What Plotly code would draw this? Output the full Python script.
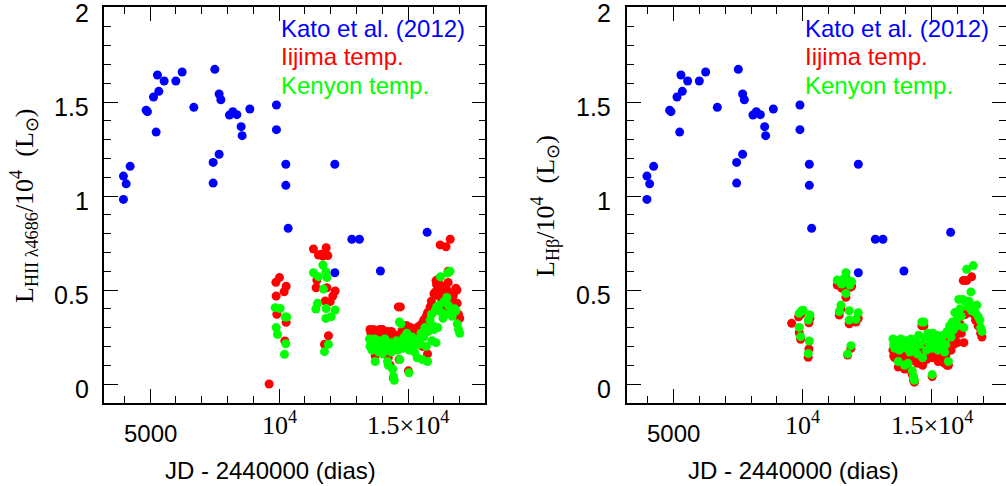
import plotly.graph_objects as go

# ---------------- data ----------------
kato_jd = [3965, 4070, 4225, 3965, 4845, 4895, 5233, 5130, 5336, 5284, 5543, 5995, 6240, 6693,
           7507, 7442, 7442, 7674, 7674, 7740, 8074, 8205, 8360, 8864, 8527, 8566, 9895, 9895,
           10259, 10259, 12158, 10349, 12817, 13112, 12158, 13926, 15736]
kato_l = [1.106, 1.065, 1.158, 0.982, 1.457, 1.449, 1.340, 1.527, 1.557, 1.644, 1.612, 1.612, 1.660, 1.472,
          1.674, 1.179, 1.069, 1.222, 1.543, 1.512, 1.431, 1.449, 1.433, 1.463, 1.369, 1.321, 1.484, 1.353,
          1.169, 1.057, 1.169, 0.828, 0.770, 0.770, 0.592, 0.601, 0.807]

# He II 4686 panel - Iijima template
heii_iijima_jd = [10012, 9872, 10271, 10194, 9884, 9910, 10271, 10220, 9612,
                  11330, 11822, 11523, 11693, 11887, 11460, 11434, 11848, 12171, 12081, 11977, 11783, 11911, 11756, 11620,
                  13520, 13560, 13600, 13650, 13700, 13720, 13800, 13850, 13900, 13950, 14000, 14050, 14100, 14150,
                  14200, 14250, 14300, 14350, 14400, 14450, 14500, 14550, 14620, 14700, 14750, 14800, 14850, 14900,
                  14950, 15000, 15050, 15100, 15150, 15200, 15250, 15300, 15350, 15400,
                  13720, 13850, 14230, 14430, 14300, 15010, 14650, 13650, 14100, 15750, 15550,
                  15450, 15530, 15600, 15650, 15700, 15750, 15800, 15850, 15900, 15950, 16000, 16050, 16080, 16100,
                  16150, 16200, 16250, 16240, 16300, 16350, 16400, 16470, 16500, 16550, 16560, 16630, 16650, 16700,
                  16750, 16800, 16850, 16890, 16900, 16950, 17000, 16550, 16420]
heii_iijima_l = [0.566, 0.541, 0.520, 0.491, 0.468, 0.371, 0.328, 0.229, 0.0,
                 0.718, 0.725, 0.686, 0.681, 0.683, 0.553, 0.512, 0.512, 0.495, 0.468, 0.438, 0.441, 0.257, 0.211, 0.69,
                 0.29, 0.27, 0.25, 0.29, 0.26, 0.23, 0.27, 0.25, 0.29, 0.27, 0.29, 0.25, 0.26, 0.22,
                 0.28, 0.26, 0.24, 0.28, 0.27, 0.23, 0.26, 0.21, 0.41, 0.41, 0.28, 0.24, 0.26, 0.31,
                 0.31, 0.22, 0.27, 0.30, 0.25, 0.27, 0.24, 0.29, 0.30, 0.27,
                 0.15, 0.17, 0.14, 0.03, 0.10, 0.07, 0.13, 0.19, 0.19, 0.16, 0.20,
                 0.31, 0.32, 0.34, 0.28, 0.36, 0.38, 0.33, 0.41, 0.44, 0.38, 0.48, 0.49, 0.55, 0.53,
                 0.47, 0.56, 0.50, 0.74, 0.44, 0.52, 0.46, 0.73, 0.50, 0.60, 0.49, 0.77, 0.45, 0.42,
                 0.47, 0.40, 0.51, 0.50, 0.43, 0.37, 0.35, 0.54, 0.40]

# He II 4686 panel - Kenyon template
heii_kenyon_jd = [9845, 10039, 10233, 10297, 9884, 9935, 10259, 10205,
                  11693, 11330, 11523, 11810, 11848, 11718, 11486, 11422, 11822, 12171, 12016, 11810, 11911, 11756,
                  13500, 13520, 13560, 13600, 13650, 13700, 13720, 13780, 13820, 13860, 13900, 13950, 14000, 14050,
                  14100, 14150, 14200, 14230, 14260, 14300, 14350, 14400, 14430, 14460, 14500, 14550, 14600, 14660,
                  14720, 14680, 14750, 14800, 14850, 14900, 14950, 15000, 15030, 15050, 15100, 15150, 15200, 15250,
                  15300, 15350, 15400,
                  15450, 15500, 15550, 15600, 15650, 15700, 15750, 15780, 15850, 15900, 15920, 15950, 16000, 16050,
                  16080, 16100, 16150, 16200, 16250, 16300, 16350, 16400, 16450, 16500, 16530, 16550, 16620, 16650,
                  16700, 16750, 16800, 16850, 16900, 16950, 17000]
heii_kenyon_l = [0.406, 0.402, 0.356, 0.356, 0.300, 0.264, 0.214, 0.158,
                 0.633, 0.592, 0.571, 0.597, 0.566, 0.505, 0.429, 0.399, 0.402, 0.394, 0.358, 0.349, 0.211, 0.172,
                 0.24, 0.20, 0.22, 0.18, 0.21, 0.24, 0.12, 0.19, 0.22, 0.17, 0.23, 0.20, 0.16, 0.21,
                 0.24, 0.18, 0.12, 0.10, 0.20, 0.22, 0.17, 0.08, 0.04, 0.02, 0.21, 0.23, 0.18, 0.33,
                 0.32, 0.13, 0.22, 0.19, 0.25, 0.21, 0.27, 0.24, 0.06, 0.18, 0.23, 0.25, 0.20, 0.17,
                 0.22, 0.14, 0.24,
                 0.21, 0.27, 0.13, 0.25, 0.30, 0.20, 0.12, 0.28, 0.34, 0.37, 0.23, 0.31, 0.29, 0.39,
                 0.22, 0.41, 0.30, 0.42, 0.57, 0.38, 0.35, 0.44, 0.37, 0.46, 0.59, 0.42, 0.60, 0.39,
                 0.36, 0.38, 0.40, 0.39, 0.32, 0.29, 0.27]

# H-beta panel - Iijima template
hb_iijima_jd = [9574, 9845, 9940, 9868, 9922, 10244, 10283, 10244, 10217,
                11341, 11512, 11678, 11767, 11833, 11678, 11484, 11419, 11806, 12155, 12066, 11806, 11872, 11744, 11900,
                13500, 13530, 13570, 13600, 13650, 13700, 13705, 13750, 13800, 13850, 13900, 13950, 14000, 14050,
                14080, 14100, 14150, 14200, 14250, 14300, 14330, 14350, 14400, 14450, 14500, 14550, 14650, 14750,
                14800, 14850, 14900, 14950, 15000, 15020, 15050, 15100, 15150, 15200, 15250, 15300, 15350, 15400,
                15450, 15500, 15550, 15600, 15650, 15700, 15750, 15800, 15850, 15900, 15950, 16000, 16050, 16100,
                16150, 16200, 16250, 16300, 16225, 16357, 16450, 16550, 16523, 16650, 16700, 16750, 16800, 16872,
                16900, 16950, 14620, 14700]
hb_iijima_l = [0.323, 0.358, 0.372, 0.273, 0.238, 0.326, 0.350, 0.186, 0.142,
               0.527, 0.510, 0.565, 0.525, 0.514, 0.461, 0.400, 0.367, 0.326, 0.350, 0.330, 0.320, 0.190, 0.154, 0.520,
               0.18, 0.15, 0.14, 0.17, 0.15, 0.16, 0.09, 0.13, 0.18, 0.16, 0.15, 0.08, 0.17, 0.14,
               0.08, 0.16, 0.12, 0.18, 0.05, 0.02, 0.01, 0.14, 0.16, 0.11, 0.19, 0.15, 0.10, 0.17,
               0.13, 0.20, 0.16, 0.18, 0.14, 0.04, 0.20, 0.17, 0.15, 0.19, 0.12, 0.16, 0.18, 0.12,
               0.19, 0.11, 0.15, 0.10, 0.10, 0.23, 0.18, 0.25, 0.21, 0.29, 0.26, 0.22, 0.36, 0.32,
               0.27, 0.38, 0.22, 0.37, 0.55, 0.55, 0.38, 0.57, 0.40, 0.37, 0.34, 0.36, 0.31, 0.30,
               0.27, 0.25, 0.31, 0.31]

# H-beta panel - Kenyon template
hb_kenyon_jd = [9868, 9961, 10023, 9868, 9922, 10283, 10217, 10256, 10217,
                11341, 11512, 11678, 11767, 11833, 11678, 11484, 11419, 11806, 12155, 12066, 11806, 11872, 11744,
                11600, 11900,
                13500, 13530, 13570, 13600, 13650, 13700, 13705, 13750, 13800, 13850, 13900, 13950, 14000, 14050,
                14080, 14100, 14150, 14200, 14250, 14300, 14330, 14350, 14400, 14450, 14500, 14550, 14620, 14700,
                14650, 14750, 14800, 14850, 14900, 14950, 15000, 15020, 15050, 15100, 15150, 15200, 15250, 15300,
                15350, 15400,
                15450, 15500, 15550, 15600, 15650, 15700, 15750, 15800, 15850, 15900, 15950, 16000, 16050, 16100,
                16150, 16200, 16250, 16300, 16357, 16400, 16450, 16523, 16550, 16612, 16650, 16700, 16750, 16800,
                16872, 16900, 16950]
hb_kenyon_l = [0.376, 0.390, 0.392, 0.301, 0.252, 0.367, 0.340, 0.229, 0.162,
               0.553, 0.532, 0.592, 0.550, 0.527, 0.482, 0.420, 0.385, 0.390, 0.379, 0.344, 0.340, 0.204, 0.160,
               0.560, 0.545,
               0.24, 0.21, 0.19, 0.23, 0.20, 0.22, 0.12, 0.18, 0.24, 0.21, 0.20, 0.10, 0.23, 0.19,
               0.11, 0.22, 0.17, 0.24, 0.07, 0.04, 0.02, 0.19, 0.22, 0.16, 0.26, 0.21, 0.33, 0.33,
               0.14, 0.24, 0.18, 0.27, 0.22, 0.25, 0.19, 0.05, 0.27, 0.23, 0.21, 0.26, 0.18, 0.22,
               0.24, 0.19,
               0.26, 0.17, 0.21, 0.28, 0.12, 0.31, 0.25, 0.33, 0.29, 0.38, 0.34, 0.31, 0.45, 0.40,
               0.36, 0.45, 0.30, 0.44, 0.61, 0.41, 0.44, 0.49, 0.39, 0.63, 0.41, 0.38, 0.42, 0.36,
               0.34, 0.30, 0.28]

x_tick_vals = [5000, 10000, 15000]
x_tick_text = ["5000", "10<sup>4</sup>", "1.5×10<sup>4</sup>"]
y_tick_vals = [0, 0.5, 1, 1.5, 2]
y_tick_text = ["0", "0.5", "1", "1.5", "2"]
legend_labels = ["Kato et al. (2012)", "Iijima temp.", "Kenyon temp."]
x_title = "JD - 2440000 (dias)"
y_titles = ["L<sub>HII λ4686</sub>/10<sup>4</sup>\u2002(L<sub>⊙</sub>)",
            "L<sub>Hβ</sub>/10<sup>4</sup>\u2002(L<sub>⊙</sub>)"]

BLUE, RED, GREEN = "#0000ff", "#ff0000", "#00ff00"
W, H = 1006, 486
SANS = "Liberation Sans"
SERIF = "Liberation Serif"

fig = go.Figure()
panels = [
    ("x", "y", heii_iijima_jd, heii_iijima_l, heii_kenyon_jd, heii_kenyon_l),
    ("x2", "y2", hb_iijima_jd, hb_iijima_l, hb_kenyon_jd, hb_kenyon_l),
]
mk = dict(size=9, line=dict(width=0))
for xa, ya, ij, il, kj, kl in panels:
    fig.add_trace(go.Scatter(x=kato_jd, y=kato_l, mode="markers", xaxis=xa, yaxis=ya,
                             marker=dict(color=BLUE, **mk), showlegend=False))
    fig.add_trace(go.Scatter(x=ij, y=il, mode="markers", xaxis=xa, yaxis=ya,
                             marker=dict(color=RED, **mk), showlegend=False))
    fig.add_trace(go.Scatter(x=kj, y=kl, mode="markers", xaxis=xa, yaxis=ya,
                             marker=dict(color=GREEN, **mk), showlegend=False))
# empty trace so the right-side tick axis of the second panel is drawn
fig.add_trace(go.Scatter(x=[], y=[], mode="markers", xaxis="x2", yaxis="y3",
                         showlegend=False, hoverinfo="skip"))

ydom = [1 - 403 / H, 1 - 7.3 / H]
yrng = [-0.101, 2.004]
tick_style = dict(ticks="inside", ticklen=14, tickwidth=1, tickcolor="black")
minor_y = dict(ticks="inside", ticklen=7, tickwidth=1, tickcolor="black",
               dtick=0.1, tick0=0, showgrid=False)
common_x = dict(showline=True, linecolor="black", linewidth=1.6, mirror="ticks",
                tickvals=x_tick_vals, showticklabels=False, showgrid=False, zeroline=False,
                minor=dict(ticks="inside", ticklen=7, tickwidth=1, tickcolor="black",
                           dtick=1000, tick0=0, showgrid=False), **tick_style)
common_y = dict(showline=True, linecolor="black", linewidth=1.6,
                tickvals=y_tick_vals, showticklabels=False, showgrid=False, zeroline=False,
                range=yrng, domain=ydom, minor=minor_y, **tick_style)

x1_dom = [103.7 / W, 485.3 / W]
x2_dom = [627.2 / W, 1.0]
x1_rng = [3200, 17990]
x2_rng = [3200, 3200 + (W - 627.2) / 0.0258]

fig.update_layout(
    width=W, height=H, margin=dict(l=0, r=0, t=0, b=0),
    paper_bgcolor="white", plot_bgcolor="white", showlegend=False,
    xaxis=dict(domain=x1_dom, range=x1_rng, anchor="y", **common_x),
    yaxis=dict(anchor="x", mirror="ticks", **common_y),
    xaxis2=dict(domain=x2_dom, range=x2_rng, anchor="y2", **common_x),
    yaxis2=dict(anchor="x2", mirror=False, **common_y),
    yaxis3=dict(overlaying="y2", anchor="x2", side="right", range=yrng, showline=False,
                tickvals=y_tick_vals, showticklabels=False, showgrid=False, zeroline=False,
                minor=minor_y, **tick_style),
)

ann = []
for xa, ya, tcx, ylab_px in [("x", "y", 270, 91), ("x2", "y2", 793, 613)]:
    for v, t in zip(y_tick_vals, y_tick_text):
        ann.append(dict(x=ylab_px / W, xref="paper", y=v, yref=ya, yshift=-5, text=t,
                        showarrow=False, xanchor="right", yanchor="middle",
                        font=dict(family=SANS, size=25, color="black")))
    for v, t in zip(x_tick_vals, x_tick_text):
        if t == "5000":
            ann.append(dict(x=v, xref=xa, y=1 - 433 / H, yref="paper", text=t, showarrow=False,
                            xanchor="center", yanchor="middle",
                            font=dict(family=SANS, size=24, color="black")))
        else:
            ann.append(dict(x=v, xref=xa, y=1 - 423 / H, yref="paper", text=t, showarrow=False,
                            xanchor="center", yanchor="middle",
                            font=dict(family=SERIF, size=26, color="black")))
    ann.append(dict(x=tcx / W, xref="paper", y=1 - 470 / H, yref="paper", text=x_title,
                    showarrow=False, xanchor="center", yanchor="middle",
                    font=dict(family=SANS, size=24, color="black")))
    for lbl, col, py in zip(legend_labels, [BLUE, RED, GREEN], [28.5, 57, 85]):
        ann.append(dict(x=10000, xref=xa, y=1 - py / H, yref="paper", text=lbl, showarrow=False,
                        xanchor="left", yanchor="middle",
                        font=dict(family=SANS, size=24, color=col)))

for txt, px in zip(y_titles, [24, 545]):
    ann.append(dict(x=px / W, xref="paper", y=1 - 206 / H, yref="paper", text=txt, showarrow=False,
                    textangle=-90, xanchor="center", yanchor="middle",
                    font=dict(family=SERIF, size=26, color="black")))

fig.update_layout(annotations=ann)
fig.write_html("out.html", config={"displayModeBar": False},
               post_script="document.body.style.margin='0px';document.body.style.overflow='hidden';")
